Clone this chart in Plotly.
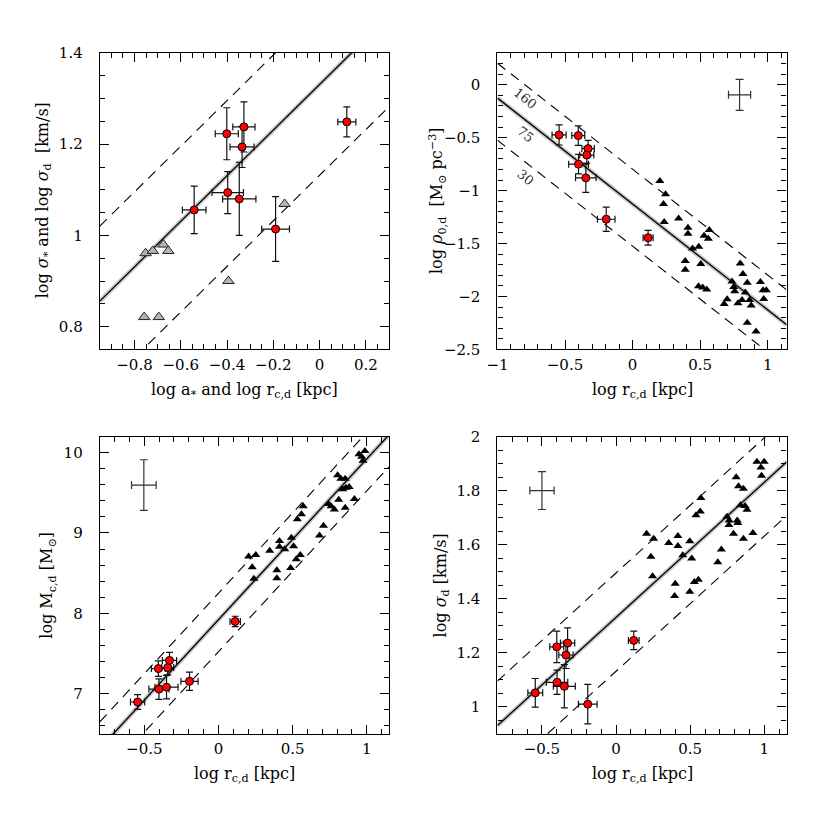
import numpy as np
import plotly.graph_objects as go

# ---------------- data ----------------
# Panel 1: log sigma vs log a* / log r_c,d
P1_RED_X = [-0.401, -0.327, -0.335, -0.397, -0.347, -0.542, -0.190, 0.118]
P1_RED_Y = [1.223, 1.238, 1.194, 1.094, 1.080, 1.056, 1.014, 1.249]
P1_RED_XERR = [0.050, 0.048, 0.052, 0.068, 0.072, 0.051, 0.060, 0.039]
P1_RED_YERR = [0.057, 0.055, 0.045, 0.046, 0.080, 0.052, 0.071, 0.033]
P1_TRI_X = [-0.752, -0.721, -0.675, -0.654, -0.394, -0.151, -0.758, -0.695]
P1_TRI_Y = [0.961, 0.966, 0.980, 0.966, 0.900, 1.069, 0.821, 0.821]

# Panel 2: log rho_0,d vs log r_c,d
P2_RED_X = [-0.544, -0.402, -0.329, -0.339, -0.400, -0.346, -0.195, 0.115]
P2_RED_Y = [-0.474, -0.480, -0.603, -0.664, -0.750, -0.879, -1.270, -1.445]
P2_RED_XERR = [0.052, 0.048, 0.046, 0.052, 0.073, 0.076, 0.065, 0.037]
P2_RED_YERR = [0.095, 0.092, 0.077, 0.077, 0.092, 0.138, 0.115, 0.069]
P2_TRI_X = [0.202, 0.244, 0.229, 0.234, 0.341, 0.410, 0.410, 0.568, 0.529, 0.561,
            0.444, 0.490, 0.390, 0.390, 0.505, 0.488, 0.519, 0.549, 0.797, 0.817,
            0.849, 0.736, 0.749, 0.756, 0.946, 0.966, 0.990, 0.834, 0.971, 0.700,
            0.678, 0.780, 0.810, 0.866, 0.878, 0.849, 0.914]
P2_TRI_Y = [-0.910, -1.033, -1.125, -1.295, -1.264, -1.350, -1.408, -1.371, -1.427, -1.455,
            -1.547, -1.531, -1.664, -1.747, -1.694, -1.903, -1.916, -1.934, -1.688, -1.787,
            -1.870, -1.857, -1.910, -1.950, -1.862, -1.940, -1.940, -1.962, -2.023, -2.027,
            -2.070, -2.063, -2.033, -2.033, -2.085, -2.248, -2.331]
P2_REP = dict(x=0.792, y=-0.095, xerr=0.082, yerr=0.146)

# Panel 3: log M_c,d vs log r_c,d
P3_RED_X = [-0.545, -0.401, -0.350, -0.195, -0.405, -0.342, -0.330, 0.113]
P3_RED_Y = [6.897, 7.058, 7.082, 7.155, 7.313, 7.325, 7.414, 7.899]
P3_RED_XERR = [0.048, 0.068, 0.078, 0.058, 0.047, 0.040, 0.048, 0.035]
P3_RED_YERR = [0.091, 0.127, 0.147, 0.113, 0.097, 0.090, 0.100, 0.065]
P3_TRI_X = [0.204, 0.252, 0.228, 0.239, 0.346, 0.412, 0.412, 0.447, 0.492, 0.507,
            0.525, 0.552, 0.487, 0.394, 0.394, 0.572, 0.560, 0.532, 0.709, 0.682,
            0.744, 0.760, 0.782, 0.855, 0.811, 0.917, 0.804, 0.826, 0.855, 0.838,
            0.860, 0.882, 0.948, 0.988, 0.966, 0.975]
P3_TRI_Y = [8.707, 8.727, 8.573, 8.432, 8.779, 8.901, 8.828, 8.796, 8.941, 8.836,
            8.674, 8.727, 8.565, 8.537, 8.436, 9.333, 9.232, 9.171, 9.091, 8.969,
            9.361, 9.333, 9.292, 9.313, 9.414, 9.422, 9.717, 9.676, 9.676, 9.543,
            9.563, 9.571, 9.979, 10.020, 9.947, 9.899]
P3_REP = dict(x=-0.503, y=9.596, xerr=0.083, yerr=0.315)

# Panel 4: log sigma_d vs log r_c,d
P4_RED_X = [-0.545, -0.400, -0.327, -0.338, -0.398, -0.349, -0.191, 0.119]
P4_RED_Y = [1.052, 1.222, 1.236, 1.192, 1.091, 1.076, 1.010, 1.246]
P4_RED_XERR = [0.050, 0.047, 0.048, 0.048, 0.072, 0.074, 0.063, 0.036]
P4_RED_YERR = [0.053, 0.058, 0.056, 0.050, 0.045, 0.080, 0.073, 0.034]
P4_TRI_X = [0.206, 0.253, 0.235, 0.246, 0.355, 0.417, 0.417, 0.450, 0.497, 0.510,
            0.399, 0.395, 0.497, 0.528, 0.555, 0.572, 0.568, 0.539, 0.710, 0.686,
            0.748, 0.763, 0.761, 0.817, 0.821, 0.792, 0.859, 0.923, 0.810, 0.826,
            0.859, 0.839, 0.870, 0.883, 0.950, 0.999, 0.977, 0.981]
P4_TRI_Y = [1.640, 1.622, 1.555, 1.483, 1.606, 1.632, 1.595, 1.561, 1.613, 1.549,
            1.455, 1.410, 1.426, 1.462, 1.470, 1.773, 1.723, 1.709, 1.582, 1.535,
            1.703, 1.689, 1.673, 1.689, 1.680, 1.640, 1.622, 1.643, 1.849, 1.816,
            1.807, 1.746, 1.743, 1.729, 1.907, 1.907, 1.885, 1.855]
P4_REP = dict(x=-0.500, y=1.800, xerr=0.082, yerr=0.070)

# model lines of constant surface density (M_sun/pc^2)
SIGMA_LEVELS = [160, 75, 30]
SIGMA_REF = 75
# (slope, intercept at SIGMA_REF, exponent of surface density)
FIT1 = (0.5, 1.331, 0.5)
FIT2 = (-1.0, -1.126, 1.0)
FIT3 = (2.0, 7.92, 1.0)
FIT4 = (0.5, 1.331, 0.5)

RANGES = {
    1: ([-0.95, 0.30], [0.75, 1.40]),
    2: ([-1.0, 1.14], [-2.5, 0.3]),
    3: ([-0.8, 1.15], [6.5, 10.2]),
    4: ([-0.8, 1.15], [0.9, 2.0]),
}

# ---------------- figure ----------------
W = H = 830
FONT = "DejaVu Serif"
fig = go.Figure()

# panel pixel boxes: (left, right, top, bottom)
BOX = {1: (90, 383, 45, 348), 2: (493, 786, 45, 348),
       3: (90, 383, 437, 741), 4: (493, 786, 437, 741)}


def ax_names(i):
    return ("x" if i == 1 else f"x{i}", "y" if i == 1 else f"y{i}")


def add_lines(i, fit):
    xa, ya = ax_names(i)
    slope, icpt, ex = fit
    xr = np.array(RANGES[i][0])
    for s in SIGMA_LEVELS:
        yv = slope * xr + icpt + ex * np.log10(s / SIGMA_REF)
        if s == SIGMA_REF:
            fig.add_trace(go.Scatter(x=xr, y=yv, mode="lines", xaxis=xa, yaxis=ya,
                                     line=dict(color="rgba(0,0,0,0.22)", width=4.5),
                                     showlegend=False, hoverinfo="skip"))
            fig.add_trace(go.Scatter(x=xr, y=yv, mode="lines", xaxis=xa, yaxis=ya,
                                     line=dict(color="black", width=1.3),
                                     showlegend=False, hoverinfo="skip"))
        else:
            fig.add_trace(go.Scatter(x=xr, y=yv, mode="lines", xaxis=xa, yaxis=ya,
                                     line=dict(color="black", width=1.1, dash="10px,7px"),
                                     showlegend=False, hoverinfo="skip"))


def add_tri(i, xs, ys, fill, size):
    xa, ya = ax_names(i)
    fig.add_trace(go.Scatter(x=xs, y=ys, mode="markers", xaxis=xa, yaxis=ya,
                             marker=dict(symbol="triangle-up", size=size, color=fill,
                                         line=dict(color="#222", width=1 if fill != "black" else 0)),
                             showlegend=False))


def add_red(i, xs, ys, xe, ye):
    xa, ya = ax_names(i)
    fig.add_trace(go.Scatter(x=xs, y=ys, mode="markers", xaxis=xa, yaxis=ya,
                             error_x=dict(type="data", array=xe, color="#111", thickness=1.2, width=3.5),
                             error_y=dict(type="data", array=ye, color="#111", thickness=1.2, width=3.5),
                             marker=dict(symbol="circle", size=8, color="#ff0000",
                                         line=dict(color="black", width=1)),
                             showlegend=False))


def add_rep(i, rep):
    xa, ya = ax_names(i)
    fig.add_trace(go.Scatter(x=[rep["x"]], y=[rep["y"]], mode="markers", xaxis=xa, yaxis=ya,
                             error_x=dict(type="data", array=[rep["xerr"]], color="#333", thickness=1.2, width=4),
                             error_y=dict(type="data", array=[rep["yerr"]], color="#333", thickness=1.2, width=4),
                             marker=dict(size=1, color="rgba(0,0,0,0)"),
                             showlegend=False, hoverinfo="skip"))


# panel 1
add_lines(1, FIT1)
add_tri(1, P1_TRI_X, P1_TRI_Y, "#b4b4b4", 10)
add_red(1, P1_RED_X, P1_RED_Y, P1_RED_XERR, P1_RED_YERR)
# panel 2
add_lines(2, FIT2)
add_tri(2, P2_TRI_X, P2_TRI_Y, "black", 8)
add_red(2, P2_RED_X, P2_RED_Y, P2_RED_XERR, P2_RED_YERR)
add_rep(2, P2_REP)
# panel 3
add_lines(3, FIT3)
add_tri(3, P3_TRI_X, P3_TRI_Y, "black", 8)
add_red(3, P3_RED_X, P3_RED_Y, P3_RED_XERR, P3_RED_YERR)
add_rep(3, P3_REP)
# panel 4
add_lines(4, FIT4)
add_tri(4, P4_TRI_X, P4_TRI_Y, "black", 8)
add_red(4, P4_RED_X, P4_RED_Y, P4_RED_XERR, P4_RED_YERR)
add_rep(4, P4_REP)

TICKS = {1: ((0.2, 0.05), (0.2, 0.05)), 2: ((0.5, 0.1), (0.5, 0.1)),
         3: ((0.5, 0.1), (1.0, 0.2)), 4: ((0.5, 0.1), (0.2, 0.05))}

layout = dict(width=W, height=H, margin=dict(l=0, r=0, t=0, b=0),
              paper_bgcolor="white", plot_bgcolor="white", showlegend=False)

for i in range(1, 5):
    l, r, t, b = BOX[i]
    (xd, xm), (yd, ym) = TICKS[i]
    common = dict(showline=True, linecolor="black", linewidth=1.2, mirror="allticks",
                  ticks="inside", ticklen=9, tickwidth=1, tickcolor="black",
                  showgrid=False, zeroline=False,
                  tickfont=dict(family=FONT, size=15, color="black"))
    xk = "xaxis" if i == 1 else f"xaxis{i}"
    yk = "yaxis" if i == 1 else f"yaxis{i}"
    xa, ya = ax_names(i)
    layout[xk] = dict(common, domain=[l / W, r / W], range=RANGES[i][0], anchor=ya,
                      tick0=0, dtick=xd, ticklabelstandoff=1,
                      minor=dict(ticks="inside", ticklen=5, tickwidth=1, tickcolor="black",
                                 dtick=xm, tick0=0, showgrid=False))
    layout[yk] = dict(common, domain=[1 - b / H, 1 - t / H], range=RANGES[i][1], anchor=xa,
                      tick0=0, dtick=yd, ticklabelstandoff=13,
                      minor=dict(ticks="inside", ticklen=5, tickwidth=1, tickcolor="black",
                                 dtick=ym, tick0=0, showgrid=False))

fig.update_layout(**layout)

TF = dict(family=FONT, size=16, color="black")
annots = [
    # x titles
    dict(text="log a<sub>*</sub> and log r<sub>c,d</sub> [kpc]", x=(90 + 383) / 2 / W, y=1 - 390 / H),
    dict(text="log r<sub>c,d</sub> [kpc]", x=(493 + 786) / 2 / W, y=1 - 390 / H),
    dict(text="log r<sub>c,d</sub> [kpc]", x=(90 + 383) / 2 / W, y=1 - 782 / H),
    dict(text="log r<sub>c,d</sub> [kpc]", x=(493 + 786) / 2 / W, y=1 - 782 / H),
    # y titles
    dict(text="log <i>σ</i><sub>*</sub> and log <i>σ</i><sub>d</sub>  [km/s]", x=33 / W, y=1 - 196 / H, textangle=-90),
    dict(text="log <i>ρ</i><sub>0,d</sub>  [M<sub>⊙</sub> pc<sup>−3</sup>]", x=432 / W, y=1 - 196 / H, textangle=-90),
    dict(text="log M<sub>c,d</sub> [M<sub>⊙</sub>]", x=37 / W, y=1 - 589 / H, textangle=-90),
    dict(text="log <i>σ</i><sub>d</sub> [km/s]", x=436 / W, y=1 - 589 / H, textangle=-90),
]
for a in annots:
    fig.add_annotation(xref="paper", yref="paper", showarrow=False, font=TF,
                       xanchor="center", yanchor="middle", **a)

# surface density labels on panel 2
LBL_X = -0.792
for s, yv in zip(SIGMA_LEVELS, [-0.126, -0.473, -0.879]):
    fig.add_annotation(xref="x2", yref="y2", x=LBL_X, y=yv, text=str(s), showarrow=False,
                       textangle=38, font=dict(family=FONT, size=13, color="#333"))

fig.write_html("out.html", config={"displayModeBar": False},
               post_script="document.body.style.margin='0';document.body.style.overflow='hidden';")
